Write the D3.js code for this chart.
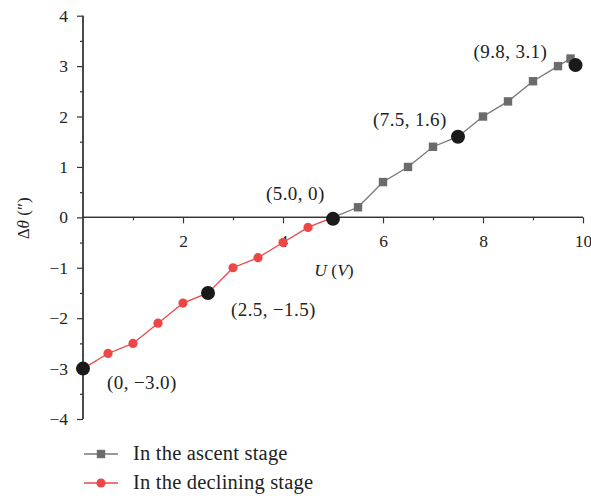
<!DOCTYPE html>
<html>
<head>
<meta charset="utf-8">
<script src="https://cdn.jsdelivr.net/npm/d3@7"></script>
<style>
  body { margin: 0; background: #fff; }
  svg text { font-family: "Liberation Serif", "Times New Roman", serif; fill: #222; }
</style>
</head>
<body>
<div id="chart"></div>
<script>
// ascent stage (gray squares)
var ascentU     = [5.0, 5.5, 6.0, 6.5, 7.0, 7.5, 8.0, 8.5, 9.0, 9.5, 9.75];
var ascentTheta = [0.0, 0.2, 0.7, 1.0, 1.4, 1.6, 2.0, 2.3, 2.7, 3.0, 3.15];

// declining stage (red circles)
var declineU     = [0.0, 0.5, 1.0, 1.5, 2.0, 2.5, 3.0, 3.5, 4.0, 4.5, 5.0];
var declineTheta = [-3.0, -2.7, -2.5, -2.1, -1.7, -1.5, -1.0, -0.8, -0.5, -0.2, 0.0];

// highlighted points and their labels
var keyU      = [0.0, 2.5, 5.0, 7.5, 9.85];
var keyTheta  = [-3.0, -1.5, -0.03, 1.6, 3.02];
var keyLabels = ["(0, \u22123.0)", "(2.5, \u22121.5)", "(5.0, 0)", "(7.5, 1.6)", "(9.8, 3.1)"];

var xTicks = [2, 4, 6, 8, 10];
var xMinor = [1, 3, 5, 7, 9];
var yTicks = [-4, -3, -2, -1, 0, 1, 2, 3, 4];
var yMinor = [-3.5, -2.5, -1.5, -0.5, 0.5, 1.5, 2.5, 3.5];

var width = 591, height = 496;
var serif = "Liberation Serif, Times New Roman, serif";
var svg = d3.select("#chart").append("svg")
    .attr("width", width)
    .attr("height", height);

var x = d3.scaleLinear().domain([0, 10]).range([83, 583]);
var y = d3.scaleLinear().domain([-4, 4]).range([419, 15.7]);

var axisColor = "#333";

// Y axis
var yAxis = svg.append("g")
    .attr("class", "axis")
    .attr("transform", "translate(" + x(0) + ",0)")
    .call(d3.axisLeft(y).tickValues(yTicks).tickSize(6).tickPadding(9)
        .tickFormat(function (d) { return d < 0 ? "\u2212" + Math.abs(d) : d; }))
    .attr("font-family", serif)
    .attr("font-size", 17.5);

svg.append("g")
    .attr("transform", "translate(" + x(0) + ",0)")
    .call(d3.axisLeft(y).tickValues(yMinor).tickSize(3).tickFormat(""));

// X axis, crossing at zero
var xAxis = svg.append("g")
    .attr("class", "axis")
    .attr("transform", "translate(0," + y(0) + ")")
    .call(d3.axisBottom(x).tickValues(xTicks).tickSize(6).tickPadding(11))
    .attr("font-family", serif)
    .attr("font-size", 17.5);

svg.append("g")
    .attr("transform", "translate(0," + y(0) + ")")
    .call(d3.axisBottom(x).tickValues(xMinor).tickSize(3).tickFormat(""));

svg.selectAll(".axis text").attr("fill", "#222");

svg.selectAll(".domain").attr("stroke", axisColor).attr("stroke-width", 1.3);
svg.selectAll(".tick line").attr("stroke", axisColor).attr("stroke-width", 1.2);
// remove end caps of the domain path
svg.selectAll(".domain").attr("d", function () {
    var p = d3.select(this.parentNode).attr("transform");
    return p.indexOf("translate(0,") === 0
        ? "M" + x(0) + ",0H" + x(10)
        : "M0," + y(4) + "V" + y(-4);
});

// axis titles
var yTitle = svg.append("text")
    .attr("transform", "translate(29," + (y(0) + 1) + ") rotate(-90)")
    .attr("text-anchor", "middle")
    .style("font-size", "17px");
yTitle.append("tspan").text("\u0394");
yTitle.append("tspan").style("font-style", "italic").text("\u03b8");
yTitle.append("tspan").text(" (\u2033)");

var xTitle = svg.append("text")
    .attr("x", 334)
    .attr("y", 276)
    .attr("text-anchor", "middle")
    .style("font-size", "17.5px");
xTitle.append("tspan").style("font-style", "italic").text("U");
xTitle.append("tspan").text(" (");
xTitle.append("tspan").style("font-style", "italic").text("V");
xTitle.append("tspan").text(")");

var gray = "#777", grayMark = "#6b6b6b", red = "#ee4646";

var ascent = ascentU.map(function (u, i) { return [u, ascentTheta[i]]; });
var decline = declineU.map(function (u, i) { return [u, declineTheta[i]]; });

var line = d3.line()
    .x(function (d) { return x(d[0]); })
    .y(function (d) { return y(d[1]); });

svg.append("path").datum(ascent)
    .attr("fill", "none").attr("stroke", gray).attr("stroke-width", 1.3)
    .attr("d", line);
svg.selectAll(".sq").data(ascent).enter().append("rect")
    .attr("class", "sq")
    .attr("x", function (d) { return x(d[0]) - 4.2; })
    .attr("y", function (d) { return y(d[1]) - 4.2; })
    .attr("width", 8.4).attr("height", 8.4)
    .attr("fill", grayMark);

svg.append("path").datum(decline)
    .attr("fill", "none").attr("stroke", red).attr("stroke-width", 1.3)
    .attr("d", line);
svg.selectAll(".dot").data(decline).enter().append("circle")
    .attr("class", "dot")
    .attr("cx", function (d) { return x(d[0]); })
    .attr("cy", function (d) { return y(d[1]); })
    .attr("r", 4.6)
    .attr("fill", red);

// highlighted points
svg.selectAll(".key").data(keyU).enter().append("circle")
    .attr("class", "key")
    .attr("cx", function (d) { return x(d); })
    .attr("cy", function (d, i) { return y(keyTheta[i]); })
    .attr("r", 7)
    .attr("fill", "#1a1a1a");

// label offsets relative to the point
var labelDx = [24, 23, -67, -85, -102];
var labelDy = [20, 23, -19, -11, -7];
svg.selectAll(".klab").data(keyLabels).enter().append("text")
    .attr("class", "klab")
    .attr("x", function (d, i) { return x(keyU[i]) + labelDx[i]; })
    .attr("y", function (d, i) { return y(keyTheta[i]) + labelDy[i]; })
    .style("font-size", "19px")
    .style("letter-spacing", "0.4px")
    .text(function (d) { return d; });

// legend
var legend = [
    { name: "In the ascent stage", color: gray, mark: grayMark, shape: "square" },
    { name: "In the declining stage", color: red, mark: red, shape: "circle" }
];
var lg = svg.selectAll(".lg").data(legend).enter().append("g")
    .attr("class", "lg")
    .attr("transform", function (d, i) { return "translate(84," + (454 + i * 29) + ")"; });
lg.append("line")
    .attr("x1", 0).attr("x2", 34)
    .attr("stroke", function (d) { return d.color; })
    .attr("stroke-width", 1.3);
lg.append("path")
    .attr("transform", "translate(17,0)")
    .attr("d", function (d) {
        return d.shape === "square"
            ? d3.symbol(d3.symbolSquare, 70)()
            : d3.symbol(d3.symbolCircle, 66)();
    })
    .attr("fill", function (d) { return d.mark; });
lg.append("text")
    .attr("x", 49)
    .attr("y", 6)
    .style("font-size", "20.5px")
    .style("letter-spacing", "0.2px")
    .text(function (d) { return d.name; });
</script>
</body>
</html>
